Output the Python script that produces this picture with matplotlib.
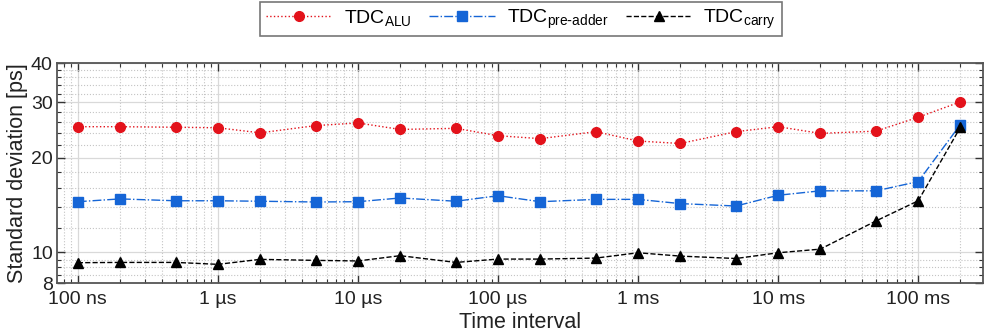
import matplotlib
matplotlib.use("Agg")
import matplotlib.pyplot as plt
from matplotlib.ticker import FixedLocator, NullFormatter
import numpy as np

plt.rcParams['font.family'] = ['Liberation Sans', 'DejaVu Sans']
plt.rcParams['mathtext.default'] = 'regular'

# Time interval in seconds
time_s = [1e-7, 2e-7, 5e-7, 1e-6, 2e-6, 5e-6, 1e-5, 2e-5, 5e-5, 1e-4,
          2e-4, 5e-4, 1e-3, 2e-3, 5e-3, 1e-2, 2e-2, 5e-2, 1e-1, 2e-1]

std_alu = [25.1, 25.1, 25.0, 24.9, 24.0, 25.3, 25.8, 24.6, 24.8, 23.5,
           23.0, 24.2, 22.6, 22.2, 24.2, 25.1, 23.9, 24.3, 26.9, 30.1]
std_preadder = [14.5, 14.8, 14.6, 14.6, 14.55, 14.47, 14.5, 14.9, 14.55, 15.15,
                14.5, 14.75, 14.75, 14.3, 14.05, 15.2, 15.7, 15.7, 16.8, 25.5]
std_carry = [9.28, 9.3, 9.3, 9.17, 9.51, 9.44, 9.4, 9.77, 9.3, 9.53,
             9.53, 9.6, 9.98, 9.74, 9.57, 9.98, 10.25, 12.6, 14.6, 25.0]

series_labels = [r'TDC$_{ALU}$', r'TDC$_{pre\text{-}adder}$', r'TDC$_{carry}$']

xtick_vals = [1e-7, 1e-6, 1e-5, 1e-4, 1e-3, 1e-2, 1e-1]
xtick_labels = ['100 ns', '1 µs', '10 µs', '100 µs', '1 ms', '10 ms', '100 ms']
ytick_vals = [8, 10, 20, 30, 40]
ytick_minor = [8.5, 9, 9.5, 12, 14, 16, 18, 22, 24, 26, 28, 32, 34, 36, 38]

W, H = 986, 336
fig = plt.figure(figsize=(W / 100, H / 100), dpi=100)
ax = fig.add_axes([57 / W, 1 - 283 / H, (983 - 57) / W, (283 - 63) / H])

red = '#e3121b'
blue = '#1565d6'
black = '#000000'

l1, = ax.plot(time_s, std_alu, linestyle=':', color=red, lw=1.0, marker='o',
              markersize=7, markerfacecolor=red, markeredgecolor=red)
l2, = ax.plot(time_s, std_preadder, linestyle='-.', color=blue, lw=1.0, marker='s',
              markersize=6.5, markerfacecolor=blue, markeredgecolor=blue)
l3, = ax.plot(time_s, std_carry, linestyle='--', color=black, lw=1.0, marker='^',
              markersize=7, markerfacecolor=black, markeredgecolor=black)

ax.set_xscale('log')
ax.set_yscale('log')
ax.set_xlim(7.1e-8, 0.29)
ax.set_ylim(8, 40)

ax.xaxis.set_major_locator(FixedLocator(xtick_vals))
ax.set_xticklabels(xtick_labels)
minor_x = [m * 10.0 ** e for e in range(-8, 0) for m in range(2, 10)]
ax.xaxis.set_minor_locator(FixedLocator(minor_x))
ax.xaxis.set_minor_formatter(NullFormatter())

ax.yaxis.set_major_locator(FixedLocator(ytick_vals))
ax.set_yticklabels([str(v) for v in ytick_vals])
ax.yaxis.set_minor_locator(FixedLocator(ytick_minor))
ax.yaxis.set_minor_formatter(NullFormatter())

ax.tick_params(which='both', direction='in', top=True, right=True, colors='#333333',
               labelcolor='#222222', labelsize=14)
ax.tick_params(which='major', length=6, width=1.0)
ax.tick_params(axis='x', which='major', pad=6)
ax.tick_params(axis='y', which='major', pad=3)
ax.tick_params(which='minor', length=3, width=0.8)

ax.grid(which='major', color='#d9d9d9', linestyle='-', linewidth=0.9)
ax.grid(which='minor', color='#c4c4c4', linestyle=':', linewidth=0.8)
ax.set_axisbelow(True)

for s in ax.spines.values():
    s.set_color('#555555')
    s.set_linewidth(1.3)

ax.set_xlabel('Time interval', fontsize=15.5, color='#222222', labelpad=3)
ax.set_ylabel('Standard deviation [ps]', fontsize=15.5, color='#222222', labelpad=2)

leg = fig.legend([l1, l2, l3], series_labels, loc='center',
                 bbox_to_anchor=(521 / W, 1 - 19 / H), ncol=3, fontsize=14,
                 handlelength=3.4, columnspacing=0.9, handletextpad=0.6,
                 frameon=True, fancybox=False, edgecolor='#555555',
                 borderpad=0.3)
leg.get_frame().set_linewidth(1.2)

fig.savefig('out.png', dpi=100)
